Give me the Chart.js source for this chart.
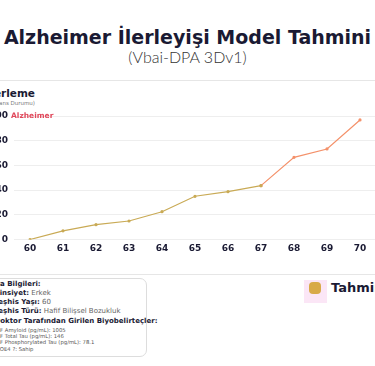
<!DOCTYPE html>
<html><head><meta charset="utf-8">
<script src="https://cdn.jsdelivr.net/npm/chart.js@4.4.1/dist/chart.umd.min.js"></script>
<style>
html,body{margin:0;padding:0;background:#fff;width:375px;height:366px;overflow:hidden;position:relative;font-family:"DejaVu Sans",sans-serif;color:#1a1a33}
.abs{position:absolute;white-space:nowrap}
#title{left:0;width:375px;top:26px;text-align:center;font-weight:bold;font-size:19px;color:#1a1a33}
#sub{left:0;width:375px;top:47px;text-align:center;font-family:Lato,"Open Sans",sans-serif;font-weight:300;font-size:16px;color:#333}
.hr{position:absolute;left:0;width:375px;height:1px;background:#e6e6e6}
#ctitle{right:340px;top:87px;font-weight:bold;font-size:10.5px;text-align:right}
#csub{right:340px;top:100px;font-size:5.5px;color:#777;text-align:right}
#wrap{position:absolute;left:-40px;top:105px;width:440px;height:160px}
#info{position:absolute;left:-20px;top:278px;width:167px;height:79px;border:1px solid #ddd;border-radius:7px;box-sizing:border-box}
.ln{position:absolute;left:-5.5px;white-space:nowrap;font-size:7px;color:#666}
.ln b{color:#1a1a33}
.sm{font-size:5.3px;color:#555}
#lgbox{left:304px;top:280px;width:23px;height:23px;background:#fbe6f6}
#lgsq{left:309px;top:282px;width:12px;height:12px;background:#d8aa48;border-radius:4px}
#lgtxt{left:331px;top:280px;font-weight:bold;font-size:13px;color:#1a1a33}
</style></head>
<body>
<div class="abs" id="title">Alzheimer İlerleyişi Model Tahmini</div>
<div class="abs" id="sub">(Vbai-DPA 3Dv1)</div>
<div class="hr" style="top:80px"></div>
<div class="abs" id="ctitle">Demans İlerleme</div>
<div class="abs" id="csub">(Demans Durumu)</div>
<div id="wrap"><canvas id="c"></canvas></div>
<div class="hr" style="top:274px"></div>
<div id="info"></div>
<div class="ln" style="top:280px;left:-18px"><b>Hasta Bilgileri:</b></div>
<div class="ln" style="top:289px"><b>Cinsiyet:</b> Erkek</div>
<div class="ln" style="top:298px"><b>Teşhis Yaşı:</b> 60</div>
<div class="ln" style="top:307px"><b>Teşhis Türü:</b> Hafif Bilişsel Bozukluk</div>
<div class="ln" style="top:317px"><b>Doktor Tarafından Girilen Biyobelirteçler:</b></div>
<div class="ln sm" style="top:327px;left:-7px">CSF Amyloid (pg/mL): 1005</div>
<div class="ln sm" style="top:333px;left:-7px">CSF Total Tau (pg/mL): 146</div>
<div class="ln sm" style="top:339px;left:-7px">CSF Phosphorylated Tau (pg/mL): 78.1</div>
<div class="ln sm" style="top:345.5px;left:-7px">APOE4 ?: Sahip</div>
<div class="abs" id="lgbox"></div>
<div class="abs" id="lgsq"></div>
<div class="abs" id="lgtxt">Tahmini</div>
<script>
const ages = ['60','61','62','63','64','65','66','67','68','69','70'];
const mciValues = [0, 7, 12, 15, 22.5, 35, 38.7, 43.6, null, null, null];
const alzValues = [null, null, null, null, null, null, null, 43.6, 66.5, 73.3, 96.8];
const yTicks = [0, 20, 40, 60, 80, 100];
const topLabel = 'Alzheimer';

const labelPlugin = {
  id: 'topLabel',
  afterDraw(chart) {
    const ctx = chart.ctx, y = chart.scales.y;
    ctx.save();
    ctx.font = 'bold 7.5px "DejaVu Sans", sans-serif';
    ctx.fillStyle = '#e0475a';
    ctx.textBaseline = 'middle';
    ctx.textAlign = 'left';
    ctx.fillText(topLabel, chart.chartArea.left - 2.5, y.getPixelForValue(yTicks[yTicks.length - 1]) + 0.5);
    ctx.restore();
  }
};

new Chart(document.getElementById('c'), {
  type: 'line',
  data: {
    labels: ages,
    datasets: [
      {label: 'MCI', data: mciValues, borderColor: '#c9aa55', backgroundColor: '#c9aa55', borderWidth: 1.2, pointRadius: 1, pointHoverRadius: 2, tension: 0, spanGaps: false},
      {label: 'Alzheimer', data: alzValues, borderColor: '#f4916a', backgroundColor: '#f4916a', borderWidth: 1.2, pointRadius: 1, pointHoverRadius: 2, tension: 0, spanGaps: false}
    ]
  },
  options: {
    responsive: true, maintainAspectRatio: false, animation: false,
    layout: {padding: {top: 11, right: 23.5, left: 0, bottom: 0}},
    plugins: {legend: {display: false}, tooltip: {enabled: false}},
    scales: {
      x: {
        offset: true,
        grid: {display: false, drawTicks: false},
        border: {display: false},
        ticks: {padding: 3.5, color: '#1a1a33', font: {family: '"DejaVu Sans", sans-serif', weight: 'bold', size: 9}},
        afterFit(s) { s.height = 25.5; }
      },
      y: {
        min: 0, max: 100,
        afterBuildTicks(s) { s.ticks = yTicks.map(v => ({value: v})); },
        grid: {color: '#eeeeee', drawTicks: false, lineWidth: 1},
        border: {display: false},
        ticks: {padding: 5.5, color: '#1a1a33', font: {family: '"DejaVu Sans", sans-serif', weight: 'bold', size: 9}},
        afterFit(s) { s.width = 53.5; }
      }
    }
  },
  plugins: [labelPlugin]
});
</script>
</body></html>
